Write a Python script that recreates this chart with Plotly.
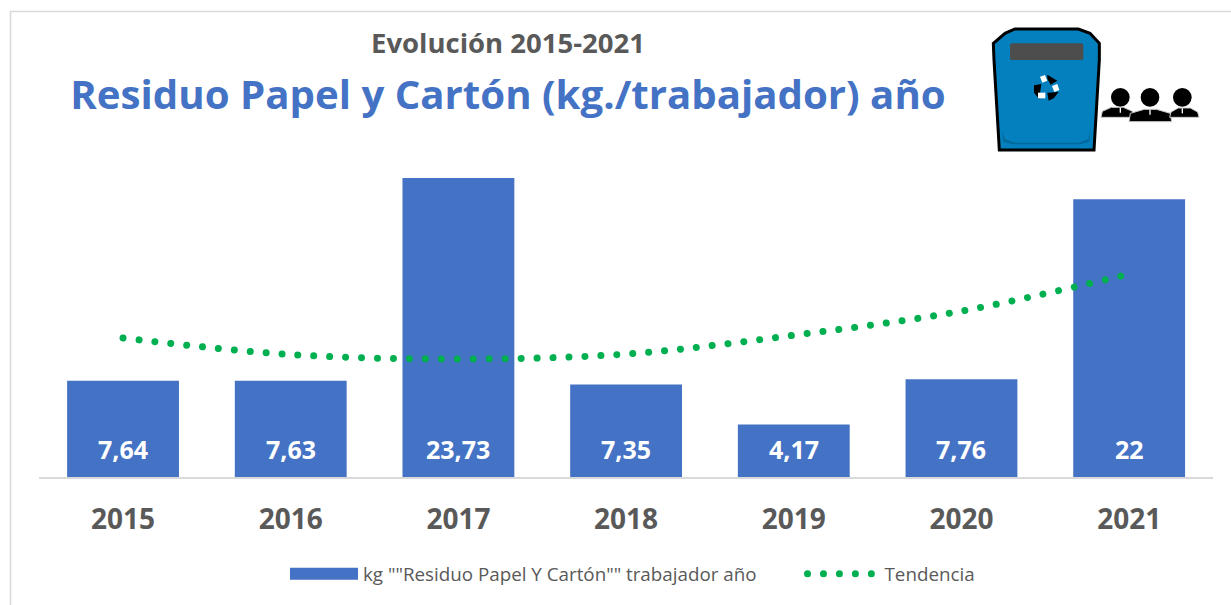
import plotly.graph_objects as go

W, H = 1231, 605
years = ["2015", "2016", "2017", "2018", "2019", "2020", "2021"]
values = [7.64, 7.63, 23.73, 7.35, 4.17, 7.76, 22.05]
value_labels = ["7,64", "7,63", "23,73", "7,35", "4,17", "7,76", "22"]
trend = [11.03, 9.72, 9.37, 9.76, 11.25, 13.17, 16.1]
bar_name = 'kg ""Residuo Papel Y Cartón"" trabajador año'
trend_name = "Tendencia"
title_top = "Evolución 2015-2021"
title_main = "Residuo Papel y Cartón (kg./trabajador) año"

BLUE = "#4472C4"
GREEN = "#00B050"
GREY = "#595959"
FONT = "Open Sans"


def px(x):
    return x / W


def py(y):
    return 1 - y / H


def path(points, close=True):
    s = "M" + " L".join(f"{px(x):.5f},{py(y):.5f}" for x, y in points)
    return s + (" Z" if close else "")


def poly(points, fill, line=None, lw=0):
    return dict(type="path", xref="paper", yref="paper", path=path(points), fillcolor=fill,
                line=dict(color=line or fill, width=lw), layer="above")


def circ(cx, cy, r, fill):
    return dict(type="circle", xref="paper", yref="paper", x0=px(cx - r), x1=px(cx + r),
                y0=py(cy + r), y1=py(cy - r), fillcolor=fill, line=dict(width=0), layer="above")


def z(x, y):
    return (960 + x / 3, 10 + y / 3)


fig = go.Figure()
fig.add_trace(go.Bar(x=years, y=values, marker=dict(color=BLUE, line=dict(width=0)), showlegend=False))
fig.add_trace(go.Scatter(x=[years[0]], y=[None], mode="lines", name=bar_name, legend="legend",
                         line=dict(color=BLUE, width=12)))
fig.add_trace(go.Scatter(x=years, y=trend, mode="lines", name=trend_name, legend="legend2",
                         line=dict(color=GREEN, width=7, dash="0.01px,15.95px", shape="spline")))

shapes = [
    dict(type="line", xref="paper", yref="paper", x0=px(10.5), x1=px(10.5), y0=0, y1=py(11),
         line=dict(color="#d9d9d9", width=1.5)),
    dict(type="line", xref="paper", yref="paper", x0=px(10), x1=1, y0=py(11.5), y1=py(11.5),
         line=dict(color="#d9d9d9", width=1.5)),
    # bin
    poly([z(100, 100), z(135, 70), z(165, 57), z(355, 57), z(390, 70), z(418, 100), z(418, 150),
          z(402, 420), z(118, 420), z(102, 150)], "#0480BE", "#000000", 3),
    poly([z(125, 360), z(130, 395), z(160, 403), z(360, 403), z(388, 395), z(392, 360),
          z(385, 388), z(355, 398), z(165, 398), z(135, 388)], "#03689A"),
    poly([z(150, 104), z(154, 100), z(366, 100), z(370, 104), z(370, 146), z(366, 150), z(154, 150),
          z(150, 146)], "#4d4d4d"),
    # recycling mark: three dark arrows and three white pieces
    poly([z(262, 194), z(292, 212), z(272, 224), z(262, 206)], "#000000"),
    poly([z(222, 226), z(244, 222), z(240, 250), z(238, 268), z(222, 248)], "#000000"),
    poly([z(262, 248), z(296, 246), z(282, 264), z(266, 272)], "#000000"),
    poly([z(240, 200), z(255, 195), z(262, 212), z(247, 218)], "#ffffff"),
    poly([z(276, 228), z(292, 222), z(298, 240), z(283, 246)], "#ffffff"),
    poly([z(234, 248), z(256, 248), z(256, 265), z(234, 265)], "#ffffff"),
]
# three workers: head x, body x, half width, body top, body bottom
for hx, bx, bw, top, bot in [(481, 472, 49, 292, 322), (570, 571, 64, 298, 335), (667, 673, 44, 294, 322)]:
    shapes.append(circ(*z(hx, 262), 28 / 3, "#000000"))
    shapes.append(poly([z(bx - bw, bot), z(bx - bw + 4, top + 12), z(bx - 18, top), z(bx + 18, top),
                        z(bx + bw - 4, top + 12), z(bx + bw, bot)], "#000000", "#cccccc", 1))
    shapes.append(poly([z(hx - 2, top + 1), z(hx + 2, top + 1), z(hx + 2, top + 16), z(hx - 2, top + 16)], "#ffffff"))

annotations = [
    dict(x=px(508), y=py(43), xref="paper", yref="paper", text=f"<b>{title_top}</b>", showarrow=False,
         font=dict(family=FONT, size=27.5, color=GREY), xanchor="center", yanchor="middle"),
]
for i, lab in enumerate(value_labels):
    annotations.append(dict(x=i, y=0, xref="x", yref="y", yshift=28, text=f"<b>{lab}</b>", showarrow=False,
                            font=dict(family=FONT, size=25, color="#ffffff"),
                            xanchor="center", yanchor="middle"))


def legend_style(width):
    return dict(orientation="h", yanchor="middle", itemwidth=width,
                font=dict(family=FONT, size=18.8, color=GREY), bgcolor="rgba(0,0,0,0)")


fig.update_layout(
    width=W, height=H, autosize=False,
    margin=dict(l=0, r=0, t=0, b=0),
    paper_bgcolor="#ffffff", plot_bgcolor="#ffffff",
    showlegend=True, bargap=0.333,
    title=dict(text=f"<b>{title_main}</b>", x=px(508), y=py(95), xanchor="center", yanchor="middle",
               xref="paper", yref="paper", font=dict(family=FONT, size=40.2, color=BLUE)),
    xaxis=dict(domain=[px(39.2), px(1213)], type="category", categoryorder="array", categoryarray=years,
               range=[-0.5, 6.5], showline=True, linecolor="#d9d9d9", linewidth=2,
               showgrid=False, ticks="outside", ticklen=16, tickcolor="rgba(0,0,0,0)",
               tickfont=dict(family=FONT, size=28, color=GREY, weight="bold")),
    yaxis=dict(domain=[py(477), py(162)], range=[0, 25], visible=False, fixedrange=True),
    legend=dict(x=px(285), y=py(574), xanchor="left", **legend_style(68)),
    legend2=dict(x=px(802.5), y=py(574), xanchor="left", **legend_style(72)),
    shapes=shapes, annotations=annotations,
)

post = """
document.body.style.margin = '0';
document.querySelectorAll('.scatterlayer .js-line').forEach(function(p){
  p.style.strokeLinecap = 'round';
});
document.querySelectorAll('.legendlines path').forEach(function(p){
  if (p.style.strokeDasharray && p.style.strokeDasharray !== 'none') {
    p.style.strokeLinecap = 'round';
  } else {
    p.style.strokeWidth = '12px';
    p.style.strokeLinecap = 'butt';
  }
});
"""
fig.write_html("out.html", post_script=post, config=dict(displayModeBar=False))
